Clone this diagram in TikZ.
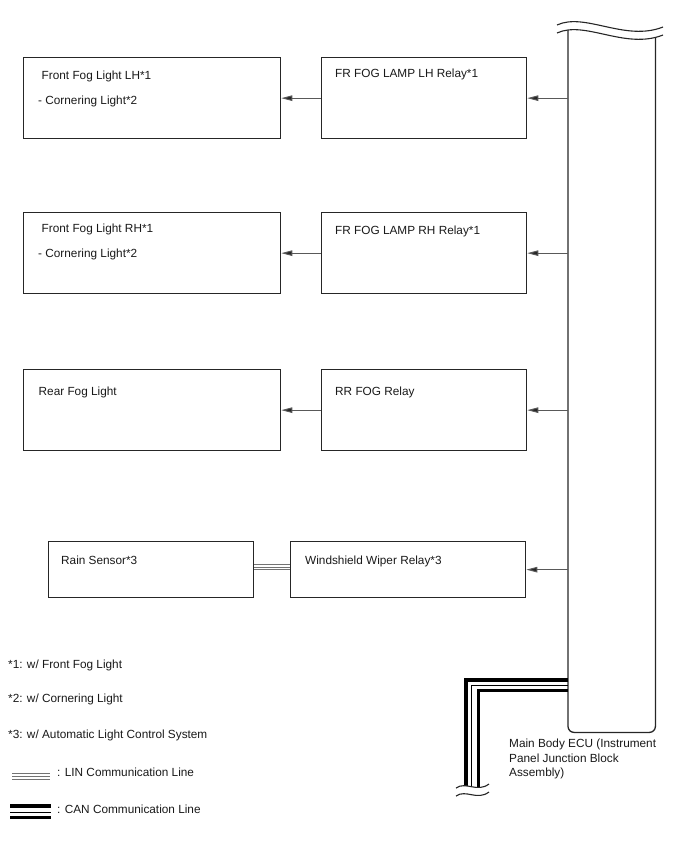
\documentclass[tikz,border=0pt]{standalone}
\usepackage{fontspec}
\setmainfont{Liberation Sans}
\usetikzlibrary{arrows.meta,calc}
\begin{document}
\begin{tikzpicture}[x=1pt,y=-1pt,
  box/.style={draw=black!85, line width=1.3pt, inner sep=0pt, anchor=north west},
  txt/.style={inner sep=0pt, anchor=base west, font=\fontsize{11.8}{14.5}\selectfont, text=black!90},
  arr/.style={draw=black!65, line width=1pt, -{Triangle[length=11pt,width=5.5pt,fill=black!85]}},
  lin/.style={draw=black!55, line width=0.9pt},
  canthick/.style={draw=black, line width=3.3pt},
  canthin/.style={draw=black, line width=1pt},
  wave/.style={draw=black!85, line width=1.1pt}]
\useasboundingbox (0,0) rectangle (688,852);
% ECU
\node[draw=none, minimum width=87pt, minimum height=702pt, inner sep=0pt, anchor=north west] (ecu) at (568,30) {};
\draw[draw=black!85, line width=1.3pt, rounded corners=6pt] (ecu.north west) -- (ecu.south west) -- (ecu.south east) -- (ecu.north east);
\fill[white] (550,0) -- (557,0) -- (557,33) .. controls (585,20) and (625,50) .. (663,35) -- (670,35) -- (670,0) -- cycle;
\draw[wave] (557,25) .. controls (585,12) and (625,42) .. (663,27);
\draw[wave] (557,33) .. controls (585,20) and (625,50) .. (663,35);
% row 1
\node[box, minimum width=257pt, minimum height=81pt] (fl1) at (23,57) {};
\node[box, minimum width=205pt, minimum height=81pt] (r1) at (321,57) {};
\node[txt] (fl1a) at (41.5,79) {Front Fog Light LH*1};
\node[txt] (fl1b) at (38,104) {- Cornering Light*2};
\node[txt] (r1t) at (335,77) {FR FOG LAMP LH Relay*1};
\draw[arr] (ecu.west |- r1.east) -- (r1.east);
\draw[arr] (r1.west) -- (fl1.east);
% row 2
\node[box, minimum width=257pt, minimum height=81pt] (fl2) at (23,212) {};
\node[box, minimum width=205pt, minimum height=81pt] (r2) at (321,212) {};
\node[txt] (fl2a) at (41.5,232.5) {Front Fog Light RH*1};
\node[txt] (fl2b) at (38,257.5) {- Cornering Light*2};
\node[txt] (r2t) at (335,234.5) {FR FOG LAMP RH Relay*1};
\draw[arr] (ecu.west |- r2.east) -- (r2.east);
\draw[arr] (r2.west) -- (fl2.east);
% row 3
\node[box, minimum width=257pt, minimum height=81pt] (fl3) at (23,369) {};
\node[box, minimum width=205pt, minimum height=81pt] (r3) at (321,369) {};
\node[txt] (fl3a) at (38.5,395) {Rear Fog Light};
\node[txt] (r3t) at (335,395) {RR FOG Relay};
\draw[arr] (ecu.west |- r3.east) -- (r3.east);
\draw[arr] (r3.west) -- (fl3.east);
% row 4
\node[box, minimum width=205pt, minimum height=56pt] (rain) at (48,541) {};
\node[box, minimum width=235pt, minimum height=56pt] (wiper) at (290,541) {};
\node[txt] (raint) at (61,564.5) {Rain Sensor*3};
\node[txt] (wipert) at (305,564.5) {Windshield Wiper Relay*3};
\draw[arr] (ecu.west |- wiper.east) -- (wiper.east);
\draw[lin] (rain.east |- 0,564.5) -- (wiper.west |- 0,564.5);
\draw[lin] (rain.east |- 0,567) -- (wiper.west |- 0,567);
\draw[lin] (rain.east |- 0,569.5) -- (wiper.west |- 0,569.5);
% CAN line from ECU
\coordinate (c1) at (466,790);
\coordinate (c2) at (471.5,790);
\coordinate (c3) at (478.5,790);
\draw[canthick] (ecu.west |- 0,680) -| (c1);
\draw[canthin] (ecu.west |- 0,685) -| (c2);
\draw[canthick] (ecu.west |- 0,690.5) -| (c3);
\fill[white] (456,788) .. controls (466,781) and (477,793) .. (489,784) -- (489,800) -- (456,800) -- cycle;
\draw[wave] (456,788) .. controls (466,781) and (477,793) .. (489,784);
\draw[wave] (456,796) .. controls (466,789) and (477,801) .. (489,792);
\node[txt, align=left] (ecut) at (509,776.5) {Main Body ECU (Instrument\\Panel Junction Block\\Assembly)};
% legend
\node[txt] (n1) at (8,668.5) {*1: w/ Front Fog Light};
\node[txt] (n2) at (8,702.5) {*2: w/ Cornering Light};
\node[txt] (n3) at (8,738.5) {*3: w/ Automatic Light Control System};
\coordinate (l1) at (12,773);
\coordinate (l2) at (50,773);
\draw[lin] (l1) -- (l2);
\draw[lin] ($(l1)+(0,3)$) -- ($(l2)+(0,3)$);
\draw[lin] ($(l1)+(0,6)$) -- ($(l2)+(0,6)$);
\node[txt] (lint) at (57,776.5) {: LIN Communication Line};
\coordinate (k1) at (10,806);
\coordinate (k2) at (51,806);
\draw[canthick] (k1) -- (k2);
\draw[canthin] ($(k1)+(0,6)$) -- ($(k2)+(0,6)$);
\draw[canthick] ($(k1)+(0,11.5)$) -- ($(k2)+(0,11.5)$);
\node[txt] (cant) at (57,813.5) {: CAN Communication Line};
\end{tikzpicture}
\end{document}
